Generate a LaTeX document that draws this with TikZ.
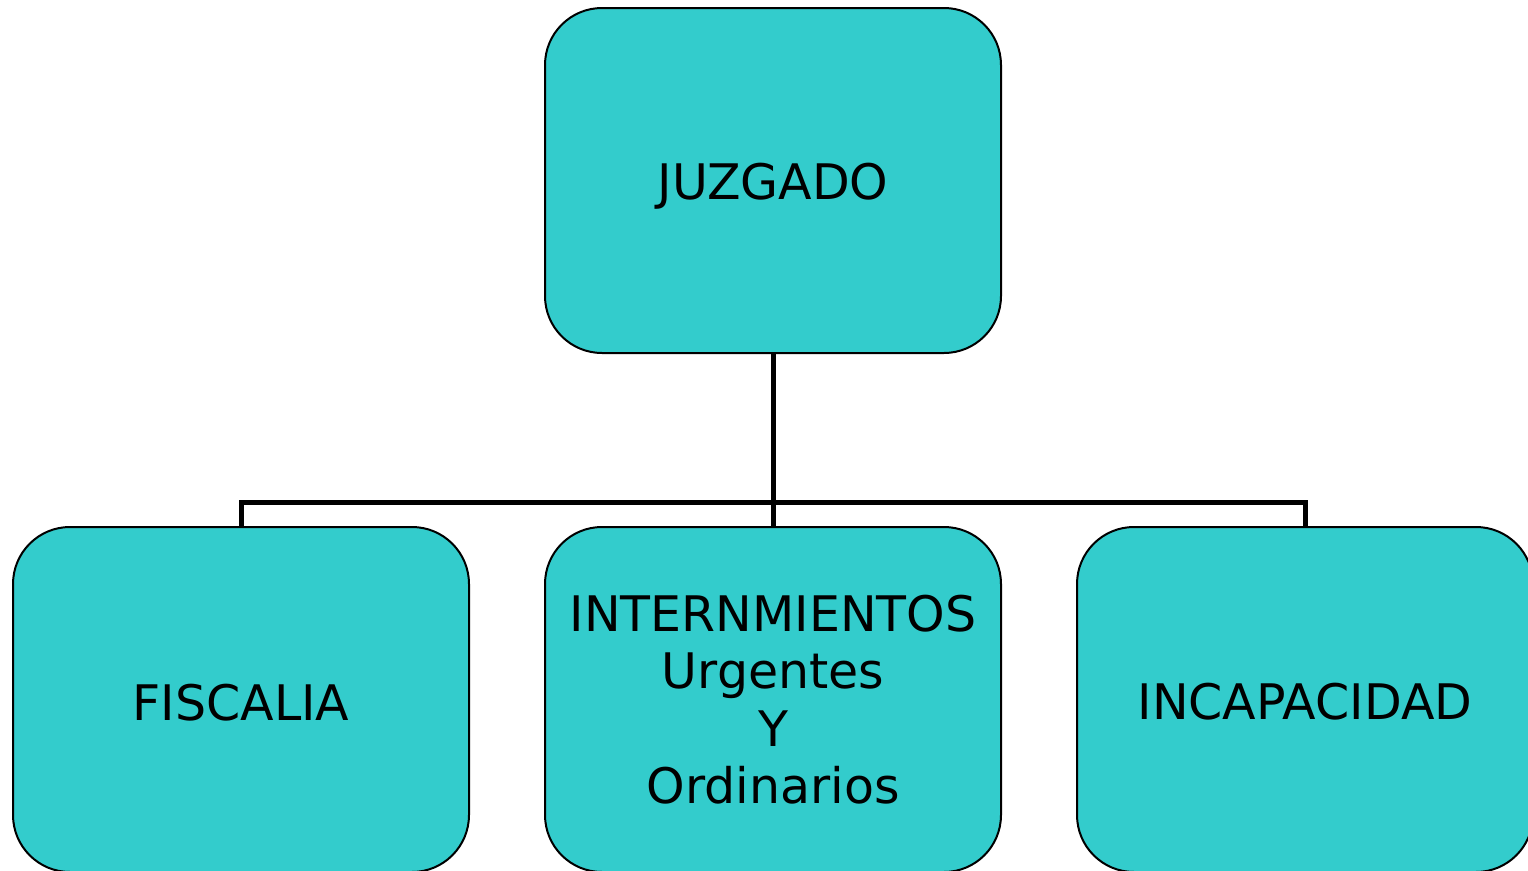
\documentclass[tikz,border=0pt]{standalone}
\usepackage{fontspec}
\setmainfont{DejaVu Sans}
\definecolor{turquesa}{HTML}{33CCCC}

\tikzset{
    caja/.style={draw=black, line width=2pt, fill=turquesa, rounded corners=57pt,
        minimum width=456pt, minimum height=345pt, inner sep=0pt, align=center,
        font=\fontsize{49}{57.5}\selectfont},
    rama/.style={line width=5pt}
}
\newcommand{\bajar}[2]{\raisebox{-#1}[\height][\depth]{#2}}

\begin{document}
\begin{tikzpicture}[x=1pt,y=-1pt]

        \clip (0,0) rectangle (1528,870);
        \fill[white] (0,0) rectangle (1528,870);

        \node[caja] (juzgado) at (773,180.5) {\bajar{6pt}{JUZGADO}};
        \node[caja] (fiscalia) at (241,699.5) {\bajar{3pt}{FISCALIA}};
        \node[caja] (intern) at (773,699.5) {INTERNMIENTOS\\Urgentes\\Y\\Ordinarios};
        \node[caja] (incap) at (1305,699.5) {\bajar{2pt}{INCAPACIDAD}};

        \coordinate (barra) at (773,502);

        \draw[rama] (juzgado.south) -- (intern.north);
        \draw[rama] (fiscalia.north) |- (barra) -| (incap.north);

        \end{tikzpicture}
\end{document}
